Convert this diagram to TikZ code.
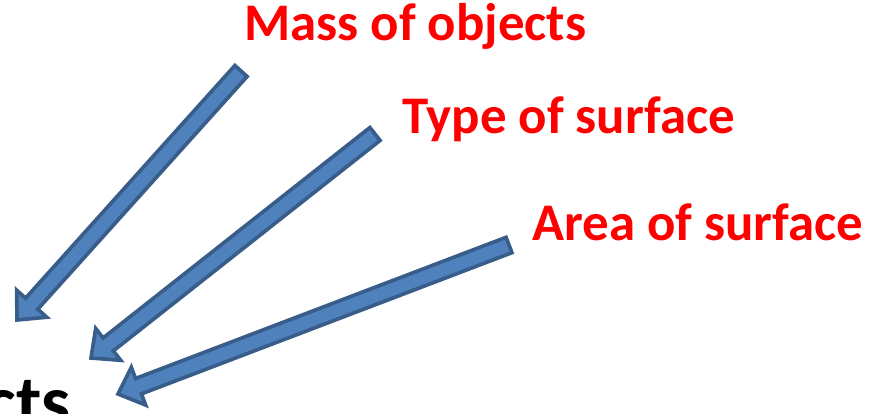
\documentclass[tikz,border=0pt]{standalone}
\usepackage{fontspec}
\setmainfont{Carlito}
\usetikzlibrary{calc}

\definecolor{arrowfill}{RGB}{79,129,189}
\definecolor{arrowline}{RGB}{56,93,138}

\tikzset{
  factor/.style={text=red, font=\bfseries\fontsize{37.6}{44}\selectfont,
    inner sep=0pt, anchor=base west},
  blockarrow/.style={fill=arrowfill, draw=arrowline, line width=2.6pt,
    line join=miter},
}

% block arrow from tail #1 to tip #2
\newcommand\blockarrow[2]{%
  \coordinate (hb) at ($(#2)!15.6pt!(#1)$);
  \draw[blockarrow] ($(#1)!5.85pt!90:(#2)$) -- ($(hb)!5.85pt!90:(#2)$)
    -- ($(hb)!14.4pt!90:(#2)$) -- (#2) -- ($(hb)!14.4pt!-90:(#2)$)
    -- ($(hb)!5.85pt!-90:(#2)$) -- ($(#1)!5.85pt!-90:(#2)$) -- cycle;
}

\begin{document}
\begin{tikzpicture}[x=0.025cm, y=-0.025cm]
  \useasboundingbox (0,0) rectangle (870,414);
  \clip (0,0) rectangle (870,414);

  \node[factor] (mass) at (244,40) {Mass of objects};
  \node[factor] (type) at (402,133) {Type of surface};
  \node[factor] (area) at (532,240) {Area of surface};
  \node[inner sep=0pt, anchor=base east, font=\bfseries\fontsize{52}{62}\selectfont]
    (cts) at (71,426) {cts};

  \coordinate (mass tail) at (241,71);
  \coordinate (mass tip) at (17,320);
  \coordinate (type tail) at (375,134);
  \coordinate (type tip) at (91,358);
  \coordinate (area tail) at (509,245);
  \coordinate (area tip) at (118,394);

  \blockarrow{mass tail}{mass tip}
  \blockarrow{type tail}{type tip}
  \blockarrow{area tail}{area tip}
\end{tikzpicture}
\end{document}
